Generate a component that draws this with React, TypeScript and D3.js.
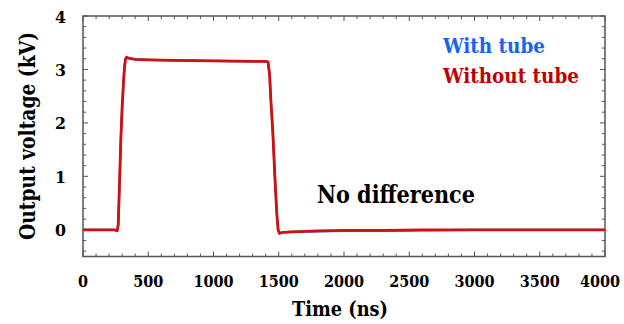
import React from "react";
import * as d3 from "d3";

const timeNs = [0, 100, 200, 240, 262, 270, 280, 290, 300, 310, 318, 326, 335, 350, 400, 500, 700, 1000, 1200, 1400, 1418, 1430, 1440, 1455, 1470, 1485, 1495, 1505, 1530, 1600, 1800, 2000, 2300, 2600, 3000, 3500, 4000];
const withoutTube = [0, 0, 0, 0, -0.02, 0.1, 0.9, 1.7, 2.3, 2.75, 3.05, 3.2, 3.23, 3.21, 3.19, 3.18, 3.17, 3.16, 3.155, 3.15, 3.14, 2.9, 2.4, 1.8, 1.0, 0.3, 0.0, -0.07, -0.05, -0.04, -0.02, -0.01, -0.01, 0, 0, 0, 0];
const withTube = [0, 0, 0, 0, -0.02, 0.08, 0.85, 1.68, 2.28, 2.73, 3.04, 3.2, 3.22, 3.21, 3.19, 3.18, 3.17, 3.16, 3.15, 3.15, 3.13, 2.9, 2.42, 1.82, 1.02, 0.32, 0.01, -0.06, -0.05, -0.04, -0.03, -0.02, -0.02, -0.01, 0, 0, 0];
const xTicks = [0, 500, 1000, 1500, 2000, 2500, 3000, 3500, 4000];
const yTicks = [0, 1, 2, 3, 4];

export default function App() {
  const W = 624, H = 324;
  const x = d3.scaleLinear().domain([0, 4000]).range([83, 605]);
  const y = d3.scaleLinear().domain([-0.5, 4]).range([256.5, 16]);
  const line = d3.line<number>().x((_, i) => x(timeNs[i])).y((d) => y(d));
  const fs = { fontFamily: '"DejaVu Serif Condensed", "DejaVu Serif", serif', fontWeight: 700 } as React.CSSProperties;
  const xMinor = d3.range(0, 4001, 100);
  const yMinor = d3.range(-0.4, 4.0001, 0.2);
  const axisColor = "#555";
  const [x0, x1] = x.range();
  const [yb, yt] = y.range();
  return (
    <svg width={W} height={H} style={{ position: "absolute", left: 0, top: 0 }}>
      <rect width={W} height={H} fill="#fff" />
      {xMinor.map((t) => {
        const len = t % 500 === 0 ? 5 : 3;
        return (
          <g key={"xm" + t} stroke={axisColor} strokeWidth={1}>
            <line x1={x(t)} x2={x(t)} y1={yb} y2={yb - len} />
            <line x1={x(t)} x2={x(t)} y1={yt} y2={yt + len} />
          </g>
        );
      })}
      {yMinor.map((t) => {
        const major = Math.abs(t - Math.round(t)) < 1e-6;
        const len = major ? 5 : 3;
        return (
          <g key={"ym" + t.toFixed(1)} stroke={axisColor} strokeWidth={1}>
            <line x1={x0} x2={x0 + len} y1={y(t)} y2={y(t)} />
            <line x1={x1} x2={x1 - len} y1={y(t)} y2={y(t)} />
          </g>
        );
      })}
      <rect x={x0} y={yt} width={x1 - x0} height={yb - yt} fill="none" stroke={axisColor} strokeWidth={1.5} />
      <path d={line(withTube) || ""} fill="none" stroke="#1a66ff" strokeWidth={2.2} strokeLinejoin="round" />
      <path d={line(withoutTube) || ""} fill="none" stroke="#d40f0f" strokeWidth={2.8} strokeLinejoin="round" />
      {xTicks.map((t) => (
        <text key={"xt" + t} x={Math.min(x(t), W - 24)} y={287} textAnchor="middle" style={fs} fontSize={16} fill="#000">
          {t}
        </text>
      ))}
      {yTicks.map((t) => (
        <text key={"yt" + t} x={66} y={y(t) + 6.5} textAnchor="end" style={fs} fontSize={17.5} fill="#000">
          {t}
        </text>
      ))}
      <text x={340} y={316} textAnchor="middle" style={fs} fontSize={21} fill="#000" textLength={96} lengthAdjust="spacingAndGlyphs">
        Time (ns)
      </text>
      <text transform="translate(35,136) rotate(-90)" textAnchor="middle" style={fs} fontSize={21.5} fill="#000" textLength={208} lengthAdjust="spacingAndGlyphs">
        Output voltage (kV)
      </text>
      <text x={443} y={53} style={fs} fontSize={21} fill="#1565f0" textLength={102} lengthAdjust="spacingAndGlyphs">
        With tube
      </text>
      <text x={443} y={83} style={fs} fontSize={21} fill="#c00000" textLength={136} lengthAdjust="spacingAndGlyphs">
        Without tube
      </text>
      <text x={317} y={203} style={fs} fontSize={24.5} fill="#000" textLength={158} lengthAdjust="spacingAndGlyphs">
        No difference
      </text>
    </svg>
  );
}
